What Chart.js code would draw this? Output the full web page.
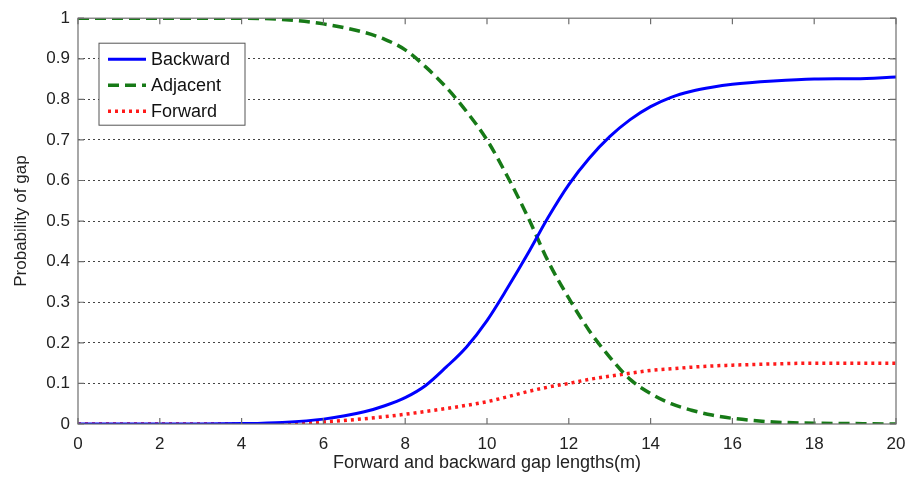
<!DOCTYPE html>
<html>
<head>
<meta charset="utf-8">
<script src="https://cdn.jsdelivr.net/npm/chart.js@4"></script>
<style>
  html, body { margin: 0; padding: 0; background: #fff; }
  #wrap { width: 907px; height: 480px; }
</style>
</head>
<body>
<div id="wrap"><canvas id="canvasGap"></canvas></div>
<script>
// gap length (m)
const gapLengths = [0, 1, 2, 3, 4, 5, 6, 7, 7.5, 8, 8.5, 9, 9.5, 10, 10.5, 11, 11.5, 12, 12.5, 13, 13.5, 14, 14.5, 15, 15.5, 16, 17, 18, 19, 20];
// probability of each gap
const backward = [0, 0, 0, 0, 0.001, 0.004, 0.012, 0.03, 0.045, 0.065, 0.095, 0.14, 0.19, 0.255, 0.335, 0.42, 0.51, 0.59, 0.655, 0.708, 0.75, 0.782, 0.805, 0.82, 0.83, 0.837, 0.845, 0.85, 0.851, 0.855];
const adjacent = [1, 1, 1, 1, 1, 0.997, 0.986, 0.965, 0.948, 0.922, 0.88, 0.83, 0.77, 0.70, 0.61, 0.51, 0.40, 0.31, 0.23, 0.165, 0.11, 0.075, 0.05, 0.034, 0.022, 0.014, 0.005, 0.002, 0.001, 0];
const forward = [0, 0, 0, 0, 0, 0.001, 0.005, 0.013, 0.018, 0.024, 0.031, 0.038, 0.046, 0.055, 0.067, 0.08, 0.091, 0.1, 0.11, 0.118, 0.125, 0.132, 0.136, 0.14, 0.143, 0.145, 0.148, 0.15, 0.15, 0.15];

const xTicks = [0, 2, 4, 6, 8, 10, 12, 14, 16, 18, 20];
const yTicks = [0, 0.1, 0.2, 0.3, 0.4, 0.5, 0.6, 0.7, 0.8, 0.9, 1];
const yTickLabels = ['0', '0.1', '0.2', '0.3', '0.4', '0.5', '0.6', '0.7', '0.8', '0.9', '1'];

const seriesNames = ['Backward', 'Adjacent', 'Forward'];

//Convierte un array de valores en puntos {x,y}
function toPoints(vals) {
  return gapLengths.map((g, i) => ({ x: g, y: vals[i] }));
}

const fontFam = '"Liberation Sans", Arial, sans-serif';
const axisGray = '#6e6e6e';

//Caja del grafico, ticks hacia adentro y leyenda dentro del area
const boxPlugin = {
  id: 'boxPlugin',
  afterDatasetsDraw(chart) {
    const ctx = chart.ctx;
    const a = chart.chartArea;
    const sx = chart.scales.x, sy = chart.scales.y;
    ctx.save();
    ctx.strokeStyle = axisGray;
    ctx.lineWidth = 1.2;
    ctx.setLineDash([]);
    ctx.strokeRect(a.left, a.top, a.right - a.left, a.bottom - a.top);
    ctx.beginPath();
    xTicks.forEach(v => {
      const px = sx.getPixelForValue(v);
      ctx.moveTo(px, a.bottom); ctx.lineTo(px, a.bottom - 6);
      ctx.moveTo(px, a.top); ctx.lineTo(px, a.top + 6);
    });
    yTicks.forEach(v => {
      const py = sy.getPixelForValue(v);
      ctx.moveTo(a.left, py); ctx.lineTo(a.left + 6, py);
      ctx.moveTo(a.right, py); ctx.lineTo(a.right - 6, py);
    });
    ctx.stroke();

    // leyenda
    const lx = a.left + 21, ly = a.top + 25, lw = 146, lh = 82;
    ctx.fillStyle = '#fff';
    ctx.fillRect(lx, ly, lw, lh);
    ctx.strokeStyle = '#555';
    ctx.lineWidth = 1;
    ctx.strokeRect(lx, ly, lw, lh);
    chart.data.datasets.forEach((ds, i) => {
      const yy = ly + 16 + i * 26;
      ctx.strokeStyle = ds.borderColor;
      ctx.lineWidth = ds.borderWidth;
      ctx.setLineDash(ds.borderDash || []);
      ctx.beginPath();
      ctx.moveTo(lx + 9, yy); ctx.lineTo(lx + 47, yy);
      ctx.stroke();
      ctx.setLineDash([]);
      ctx.fillStyle = '#111';
      ctx.font = '18px ' + fontFam;
      ctx.textBaseline = 'middle';
      ctx.textAlign = 'left';
      ctx.fillText(ds.label, lx + 52, yy + 1);
    });
    ctx.restore();
  }
};

var canvas = document.getElementById('canvasGap');
new Chart(canvas, {
  type: 'line',
  data: {
    datasets: [
      { label: seriesNames[0], data: toPoints(backward), borderColor: '#0000ff', borderWidth: 3, pointRadius: 0, cubicInterpolationMode: 'monotone' },
      { label: seriesNames[1], data: toPoints(adjacent), borderColor: '#177a17', borderWidth: 3.5, borderDash: [11, 6], pointRadius: 0, cubicInterpolationMode: 'monotone' },
      { label: seriesNames[2], data: toPoints(forward), borderColor: '#ff1a1a', borderWidth: 3.5, borderDash: [3, 4], pointRadius: 0, cubicInterpolationMode: 'monotone' }
    ]
  },
  options: {
    responsive: true,
    maintainAspectRatio: false,
    animation: false,
    layout: { padding: { top: 17, right: 11, left: 0, bottom: 0 } },
    plugins: { legend: { display: false }, tooltip: { enabled: false } },
    scales: {
      x: {
        type: 'linear', min: 0, max: 20,
        afterBuildTicks: s => { s.ticks = xTicks.map(v => ({ value: v })); },
        afterFit: s => { s.height = 56; s.paddingLeft = 0; s.paddingRight = 0; },
        grid: { display: false, drawTicks: false },
        border: { display: false },
        ticks: { color: '#222', font: { family: fontFam, size: 17 }, padding: 10, maxRotation: 0 },
        title: { display: true, text: 'Forward and backward gap lengths(m)', color: '#222', font: { family: fontFam, size: 18 }, padding: { top: 0, bottom: 6 } }
      },
      y: {
        min: 0, max: 1,
        afterBuildTicks: s => { s.ticks = yTicks.map(v => ({ value: v })); },
        afterFit: s => { s.width = 78; },
        grid: {
          drawTicks: false,
          color: ctx => (ctx.tick && (ctx.tick.value === 0 || ctx.tick.value === 1)) ? 'rgba(0,0,0,0)' : '#444',
          lineWidth: 1
        },
        border: { display: false, dash: [2, 3] },
        ticks: {
          color: '#222', font: { family: fontFam, size: 17 }, padding: 8,
          callback: (v, i) => yTickLabels[i]
        },
        title: { display: true, text: 'Probability of gap', color: '#222', font: { family: fontFam, size: 17 }, padding: { top: 11, bottom: 0 } }
      }
    }
  },
  plugins: [boxPlugin]
});
</script>
</body>
</html>
